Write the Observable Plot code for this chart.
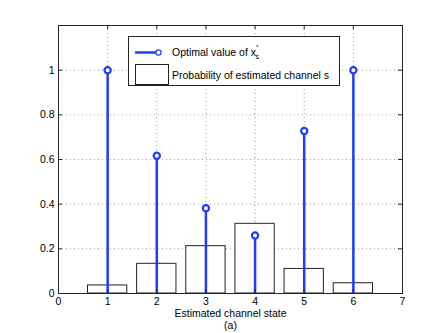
<!DOCTYPE html>
<html><head><meta charset="utf-8">
<script src="https://cdn.jsdelivr.net/npm/d3@7"></script>
<script src="https://cdn.jsdelivr.net/npm/@observablehq/plot@0.6"></script>
<style>body{margin:0;background:#fff;} svg{display:block}</style>
</head><body><div id="chart"></div>
<script>
const states = [1, 2, 3, 4, 5, 6];
const optimalX = [1.0, 0.617, 0.382, 0.260, 0.728, 1.0];
const probability = [0.036, 0.133, 0.212, 0.312, 0.110, 0.046];
const xTicks = [0, 1, 2, 3, 4, 5, 6, 7];
const yTicks = [0, 0.2, 0.4, 0.6, 0.8, 1];
const yTickLabels = ["0", "0.2", "0.4", "0.6", "0.8", "1"];
const xLabel = "Estimated channel state";
const caption = "(a)";
const legendStem = "Optimal value of x";
const legendBar = "Probability of estimated channel s";

const blue = "#1f3cff";
const W = 443, H = 333;
const mt = 25, mb = 40, ml = 58, mr = 41;
const ih = H - mt - mb, iw = W - ml - mr;
const barData = states.map((s, i) => ({s, p: probability[i]}));
const stemData = states.map((s, i) => ({s, v: optimalX[i]}));

const chart = Plot.plot({
  width: W, height: H,
  marginTop: mt, marginBottom: mb, marginLeft: ml, marginRight: mr,
  style: {fontFamily: "'Liberation Sans', Arial, sans-serif", fontSize: "10.5px", color: "#000", background: "#fff"},
  x: {domain: [0, 7]},
  y: {domain: [0, 1.2]},
  marks: [
    Plot.gridX(xTicks.slice(1, -1), {stroke: "#999", strokeOpacity: 1, strokeDasharray: "1,3"}),
    Plot.gridY(yTicks.slice(1), {stroke: "#999", strokeOpacity: 1, strokeDasharray: "1,3"}),
    Plot.rectY(barData, {x1: d => d.s - 0.4, x2: d => d.s + 0.4, y1: 0, y2: "p", fill: "white", stroke: "#222", strokeWidth: 1}),
    Plot.ruleX(stemData, {x: "s", y1: 0, y2: "v", stroke: blue, strokeWidth: 2.5}),
    Plot.dot(stemData, {x: "s", y: "v", r: 3.1, stroke: blue, strokeWidth: 2.2, fill: "white"}),
    Plot.tickX(xTicks, {x: d => d, insetTop: ih - 4, stroke: "#222"}),
    Plot.tickX(xTicks, {x: d => d, insetBottom: ih - 4, stroke: "#222"}),
    Plot.tickY(yTicks, {y: d => d, insetRight: iw - 4, stroke: "#222"}),
    Plot.tickY(yTicks, {y: d => d, insetLeft: iw - 4, stroke: "#222"}),
    Plot.frame({stroke: "#222", strokeWidth: 1}),
    Plot.axisX(xTicks, {tickSize: 0, tickPadding: 4, label: null}),
    Plot.axisY(yTicks, {tickSize: 0, tickPadding: 4, label: null, tickFormat: (d, i) => yTickLabels[i]}),
    Plot.text([xLabel], {frameAnchor: "bottom", dy: 23, text: d => d, fontSize: 10.5}),
    Plot.text([caption], {frameAnchor: "bottom", dy: 35, text: d => d, fontSize: 10.5})
  ]
});
document.getElementById("chart").appendChild(chart);

// legend
const svg = d3.select(chart);
const lg = svg.append("g").attr("font-family", "'Liberation Sans', Arial, sans-serif")
  .attr("font-size", 10.5).attr("text-anchor", "start").attr("fill", "#000");
lg.append("rect").attr("x", 128.5).attr("y", 36.5).attr("width", 211).attr("height", 49)
  .attr("fill", "white").attr("stroke", "#222");
lg.append("line").attr("x1", 135).attr("x2", 157).attr("y1", 52.5).attr("y2", 52.5)
  .attr("stroke", blue).attr("stroke-width", 2.5);
lg.append("circle").attr("cx", 158.5).attr("cy", 52.5).attr("r", 2.6)
  .attr("stroke", blue).attr("stroke-width", 1.3).attr("fill", "white");
const t1 = lg.append("text").attr("x", 172).attr("y", 56);
t1.append("tspan").text(legendStem);
t1.append("tspan").attr("font-size", 6).attr("dy", -7).attr("dx", 0).text("*");
t1.append("tspan").attr("font-size", 7).attr("dy", 10).attr("dx", -3).text("s");
lg.append("rect").attr("x", 135.5).attr("y", 64.5).attr("width", 33).attr("height", 20)
  .attr("fill", "white").attr("stroke", "#222");
lg.append("text").attr("x", 172).attr("y", 78.5).text(legendBar);
</script></body></html>
